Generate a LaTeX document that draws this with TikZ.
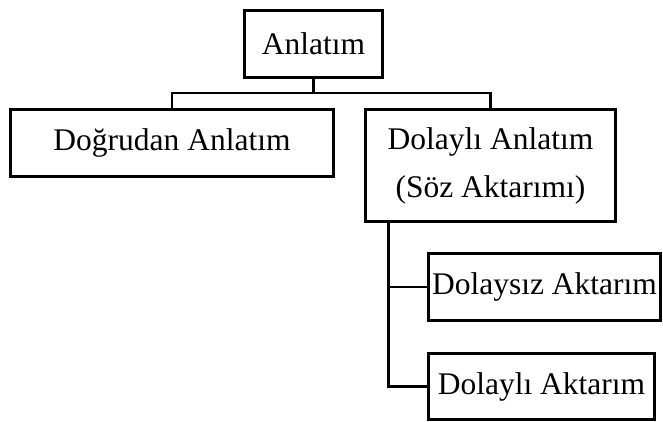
\documentclass[tikz,border=0pt]{standalone}
\usepackage{fontspec}
\setmainfont{Liberation Serif}
\usetikzlibrary{calc}
\begin{document}
\begin{tikzpicture}[x=1pt,y=-1pt,
  box/.style={draw, line width=2.8pt, inner sep=0pt, align=center,
    font=\fontsize{31.5}{48}\selectfont},
  conn/.style={line width=2.8pt}]
\useasboundingbox (0,0) rectangle (663,422);
\node[box, minimum width=138pt, minimum height=67pt] (a) at (313.5,44) {Anlatım};
\node[box, minimum width=323pt, minimum height=67pt] (b) at (172,143) {Doğrudan Anlatım};
\node[box, minimum width=250pt, minimum height=112pt] (c) at (490.5,165.5) {Dolaylı Anlatım\\(Söz Aktarımı)};
\node[box, minimum width=232pt, minimum height=67pt] (d) at (544.5,287) {Dolaysız Aktarım};
\node[box, minimum width=226pt, minimum height=66pt] (e) at (541.5,386.5) {Dolaylı Aktarım};
\coordinate (j) at (313.5,93);
\draw[conn] (a.south) -- (j);
\draw[conn] (b.north) |- (j) -| (c.north);
\coordinate (s) at ($(c.south west)+(24,0)$);
\draw[conn] (s) |- (d.west);
\draw[conn] (s) |- (e.west);
\end{tikzpicture}
\end{document}
